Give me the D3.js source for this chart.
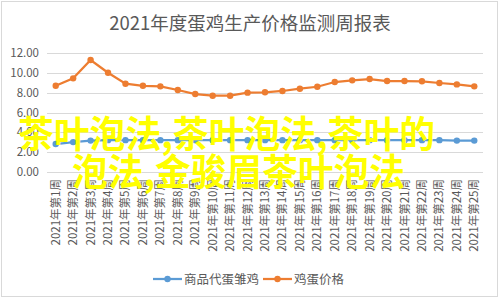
<!DOCTYPE html>
<html>
<head>
<meta charset="utf-8">
<script src="https://cdn.jsdelivr.net/npm/d3@7"></script>
<style>
  body { margin: 0; background: #fff; }
  text { font-family: "Noto Sans CJK SC", "Noto Sans", sans-serif; }
</style>
</head>
<body>
<div id="chart"></div>
<script>
// weeks 1..25
var weeks = [];
for (var w = 1; w <= 25; w++) weeks.push('2021年第' + w + '周');

var chickValues = [2.8, 3.0, 3.15, 3.2, 3.2, 3.2, 3.2, 3.2, 3.2, 3.2, 3.2, 3.2, 3.2,
  3.2, 3.2, 3.2, 3.2, 3.2, 3.2, 3.2, 3.2, 3.2, 3.2, 3.15, 3.15];
var eggValues = [8.71, 9.46, 11.32, 10.03, 8.92, 8.71, 8.65, 8.28, 7.87, 7.70, 7.70, 8.01, 8.05,
  8.18, 8.41, 8.61, 9.09, 9.26, 9.39, 9.19, 9.19, 9.16, 8.99, 8.85, 8.65];
var yTicks = [0, 2, 4, 6, 8, 10, 12];
var seriesNames = ['商品代蛋雏鸡', '鸡蛋价格'];
var colors = ['#5b9bd5', '#ed7d31'];

var width = 500, height = 301;
var svg = d3.select('#chart').append('svg')
  .attr('width', width)
  .attr('height', height);

// outer border
svg.append('rect')
  .attr('x', 1.5).attr('y', 1.5)
  .attr('width', 496).attr('height', 295)
  .attr('fill', '#fff')
  .attr('stroke', '#d9d9d9');

// title
svg.append('text')
  .attr('x', 250).attr('y', 30)
  .attr('text-anchor', 'middle')
  .attr('font-size', 18.5)
  .attr('fill', '#595959')
  .text('2021年度蛋鸡生产价格监测周报表');

var x = d3.scaleBand().domain(weeks).range([47, 483]);
var y = d3.scaleLinear().domain([0, 12]).range([171.7, 53.3]);

// gridlines + y labels
svg.append('g').selectAll('line').data(yTicks).enter()
  .append('line')
  .attr('x1', 47).attr('x2', 483)
  .attr('y1', function(d) { return Math.round(y(d)) + 0.5; })
  .attr('y2', function(d) { return Math.round(y(d)) + 0.5; })
  .attr('stroke', '#d9d9d9');

svg.append('g').selectAll('text').data(yTicks).enter()
  .append('text')
  .attr('x', 39)
  .attr('y', function(d) { return y(d) + 4; })
  .attr('text-anchor', 'end')
  .attr('font-size', 11.5)
  .attr('fill', '#595959')
  .text(function(d) { return d.toFixed(2); });

// x labels, rotated
svg.append('g').selectAll('text').data(weeks).enter()
  .append('text')
  .attr('transform', function(d) {
    return 'translate(' + (x(d) + x.bandwidth() / 2 + 4) + ',179) rotate(-90)';
  })
  .attr('text-anchor', 'end')
  .attr('font-size', 11.5)
  .attr('fill', '#595959')
  .text(function(d) { return d; });

// series
var series = [chickValues, eggValues];
var line = d3.line()
  .x(function(d, i) { return x(weeks[i]) + x.bandwidth() / 2; })
  .y(function(d) { return y(d); });

series.forEach(function(vals, k) {
  svg.append('path')
    .attr('d', line(vals))
    .attr('fill', 'none')
    .attr('stroke', colors[k])
    .attr('stroke-width', 2.25);
  svg.append('g').selectAll('circle').data(vals).enter()
    .append('circle')
    .attr('cx', function(d, i) { return x(weeks[i]) + x.bandwidth() / 2; })
    .attr('cy', function(d) { return y(d); })
    .attr('r', 3.2)
    .attr('fill', colors[k]);
});

// legend
var legendX = [153, 263];
var legend = svg.append('g').selectAll('g').data(seriesNames).enter()
  .append('g')
  .attr('transform', function(d, i) { return 'translate(' + legendX[i] + ',279)'; });
legend.append('line')
  .attr('x1', 0).attr('x2', 29)
  .attr('stroke', function(d, i) { return colors[i]; })
  .attr('stroke-width', 2.25);
legend.append('circle')
  .attr('cx', 14.5).attr('r', 3.2)
  .attr('fill', function(d, i) { return colors[i]; });
legend.append('text')
  .attr('x', 31).attr('y', 4.5)
  .attr('font-size', 12.5)
  .attr('fill', '#595959')
  .text(function(d) { return d; });

// yellow overlay text
var overlay = [
  { t: '茶叶泡法,茶叶泡法,茶叶的', x: 18, y: 148, w: 417 },
  { t: '泡法,金骏眉茶叶泡法', x: 72, y: 186, w: 333 }
];
svg.append('g').selectAll('text').data(overlay).enter()
  .append('text')
  .attr('x', function(d) { return d.x; })
  .attr('y', function(d) { return d.y; })
  .attr('textLength', function(d) { return d.w; })
  .attr('lengthAdjust', 'spacingAndGlyphs')
  .attr('font-size', 37)
  .attr('font-weight', 'bold')
  .attr('fill', '#ffff00')
  .text(function(d) { return d.t; });
</script>
</body>
</html>
